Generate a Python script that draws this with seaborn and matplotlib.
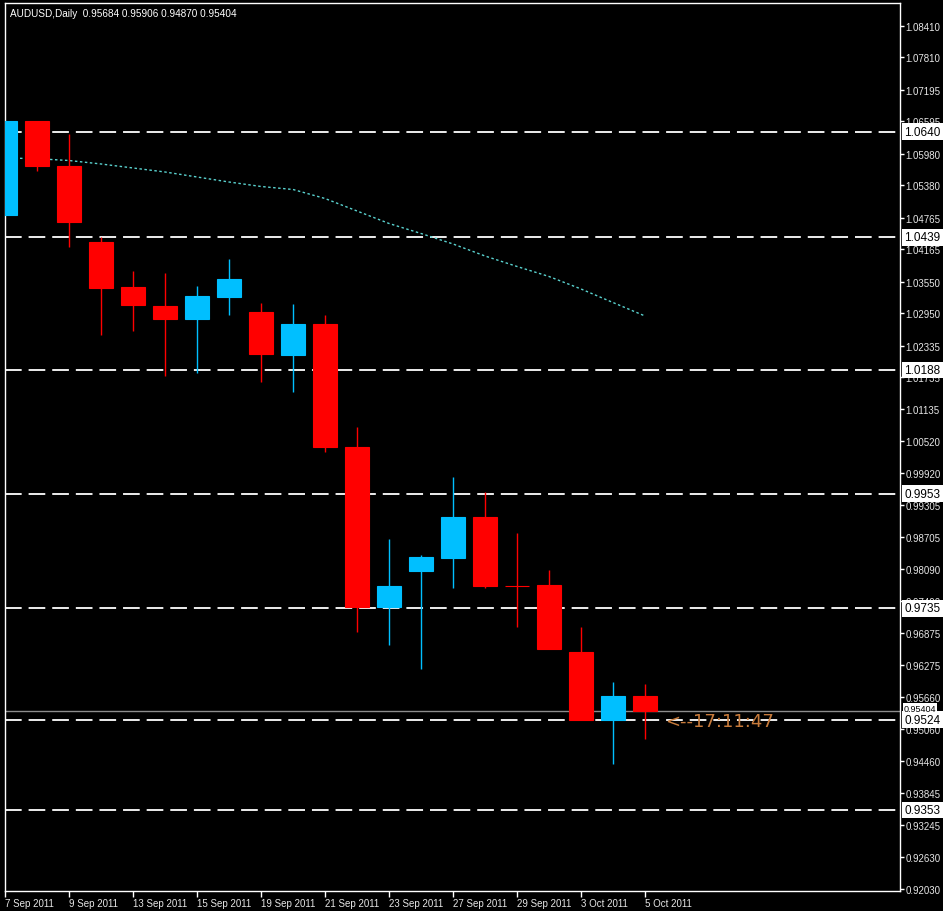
"""
AUDUSD daily candles, 7 Sep - 5 Oct 2011, MT4 style (black chart)
"""

import numpy as np
import seaborn as sns
import matplotlib.pyplot as plt
from matplotlib import transforms

dates = ["7 Sep 2011", "8 Sep 2011", "9 Sep 2011", "12 Sep 2011", "13 Sep 2011",
         "14 Sep 2011", "15 Sep 2011", "16 Sep 2011", "19 Sep 2011", "20 Sep 2011",
         "21 Sep 2011", "22 Sep 2011", "23 Sep 2011", "26 Sep 2011", "27 Sep 2011",
         "28 Sep 2011", "29 Sep 2011", "30 Sep 2011", "3 Oct 2011", "4 Oct 2011",
         "5 Oct 2011"]
opens = [1.04816, 1.06594, 1.05746, 1.04298, 1.03450, 1.03089, 1.02848, 1.03266,
         1.02981, 1.02159, 1.02747, 1.00419, 0.97383, 0.98066, 0.98313, 0.99085,
         0.97784, 0.97794, 0.96529, 0.95238, 0.95684]
highs = [1.06600, 1.06600, 1.06353, 1.04404, 1.03748, 1.03710, 1.03469, 1.03981,
         1.03146, 1.03127, 1.02924, 1.00799, 0.98667, 0.98364, 0.99850, 0.99550,
         0.98781, 0.98085, 0.97003, 0.95959, 0.95906]
lows = [1.04810, 1.05657, 1.04214, 1.02544, 1.02620, 1.01766, 1.01812, 1.02918,
        1.01652, 1.01463, 1.00313, 0.96897, 0.96661, 0.96200, 0.97743, 0.97732,
        0.97003, 0.96580, 0.95235, 0.94398, 0.94870]
closes = [1.06594, 1.05752, 1.04689, 1.03436, 1.03114, 1.02848, 1.03279, 1.03601,
          1.02178, 1.02747, 1.00419, 0.97383, 0.97781, 0.98332, 0.99091, 0.97781,
          0.97780, 0.96586, 0.95238, 0.95682, 0.95404]
ma = [1.05898, 1.05884, 1.05850, 1.05784, 1.05708, 1.05632, 1.05537, 1.05442,
      1.05357, 1.05300, 1.05129, 1.04892, 1.04655, 1.04465, 1.04266, 1.04038,
      1.03839, 1.03649, 1.03412, 1.03155, 1.02899]
levels = [1.0640, 1.0439, 1.0188, 0.9953, 0.9735, 0.9524, 0.9353]
yticks = [1.08410, 1.07810, 1.07195, 1.06595, 1.05980, 1.05380, 1.04765, 1.04165,
          1.03550, 1.02950, 1.02335, 1.01735, 1.01135, 1.00520, 0.99920, 0.99305,
          0.98705, 0.98090, 0.97490, 0.96875, 0.96275, 0.95660, 0.95060, 0.94460,
          0.93845, 0.93245, 0.92630, 0.92030]
bid = 0.95404
title = "AUDUSD,Daily  0.95684 0.95906 0.94870 0.95404"
countdown = "<--17:11:47"

sns.set_theme(style="dark", rc={
    "figure.facecolor": "black", "axes.facecolor": "black",
    "axes.edgecolor": "white", "axes.linewidth": 1.0,
    "axes.grid": False, "lines.scale_dashes": False,
    "xtick.color": "white", "ytick.color": "white",
    "xtick.bottom": True, "ytick.right": True,
})
plt.rcParams["font.family"] = ["Liberation Sans", "DejaVu Sans"]

bull_col = "#00BFFF"
bear_col = "#FF0000"

x = np.arange(len(dates))
o = np.array(opens)
c = np.array(closes)
cols = [bull_col if cc > oo else bear_col for oo, cc in zip(o, c)]

fig = plt.figure(figsize=(9.43, 9.12), dpi=100, facecolor="black")
ax = fig.add_axes([5 / 943, 20 / 912, 895 / 943, 888 / 912])

# horizontal levels + bid line
for lv in levels:
    ax.axhline(lv, color="white", lw=1.3, linestyle=(0, (12, 5)), zorder=1)
ax.axhline(bid, color="#8c8c8c", lw=1.0, zorder=1)

# moving average
sns.lineplot(x=x, y=ma, ax=ax, color="#5AD2CF", lw=1.0,
             linestyle=(0, (1.8, 1.8)), zorder=2)

# candles
ax.vlines(x, lows, highs, colors=cols, lw=1.0, zorder=3)
ax.bar(x, c - o, bottom=o, width=0.78, color=cols, edgecolor=cols,
       linewidth=0.8, zorder=4)

ax.set_xlim(0, 895 / 32)
ax.set_ylim(0.91987, 1.08839)

ax.yaxis.tick_right()
ax.set_yticks(yticks)
ax.set_yticklabels([f"{t:.5f}" for t in yticks])
ax.tick_params(axis="y", direction="out", length=3, width=1, colors="white",
               labelcolor="#e6e6e6", labelsize=7, pad=1)
ax.set_xticks(x[::2])
ax.set_xticklabels(dates[::2], ha="left")
ax.tick_params(axis="x", direction="out", length=4, width=1, colors="white",
               labelcolor="#e6e6e6", labelsize=7, pad=1)

# boxed price labels on the right scale
trans = transforms.blended_transform_factory(ax.transAxes, ax.transData)
for lv in levels:
    ax.text(1.005, lv, f"{lv:.4f}", transform=trans, ha="left", va="center",
            fontsize=8.5, color="black", zorder=10, clip_on=False,
            bbox=dict(boxstyle="square,pad=0.18", fc="white", ec="none"))
ax.text(1.004, bid + 0.0005, f"{bid:.5f}", transform=trans, ha="left", va="center",
        fontsize=6.5, color="black", zorder=10, clip_on=False,
        bbox=dict(boxstyle="square,pad=0.05", fc="white", ec="none"))

ax.text(5 / 895, 1 - 5 / 888, title, transform=ax.transAxes, ha="left", va="top",
        color="white", fontsize=7.2)
ax.annotate(countdown, xy=(x[-1], bid), xytext=(14.4, -7.5),
            textcoords="offset points", color="#C77A3A", fontsize=13,
            family="DejaVu Sans", ha="left", va="center")

fig.savefig("out.png", dpi=100, facecolor="black")
